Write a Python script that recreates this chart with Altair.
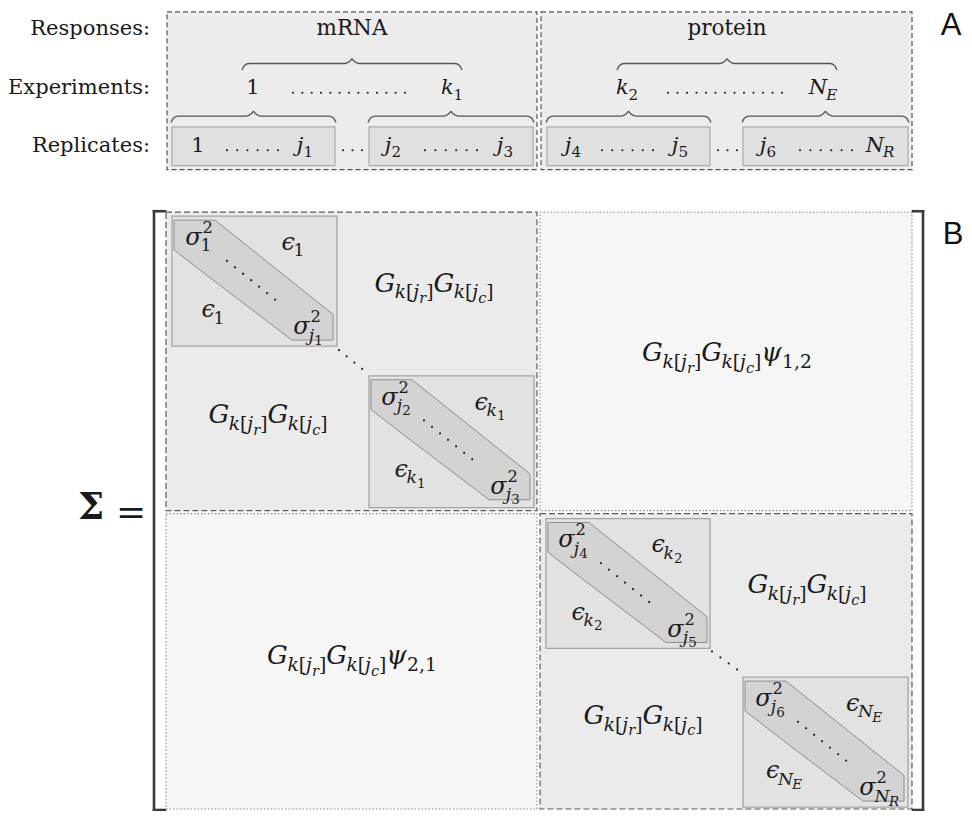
import altair as alt
import pandas as pd

# ---------------- text values ----------------
ROW_LABELS = ["Responses:", "Experiments:", "Replicates:"]
RESPONSES = ["mRNA", "protein"]
PANEL_LETTERS = ["A", "B"]

SUP = "sup"
def it(s, lvl=0):
    return (s, lvl, True)
def rm(s, lvl=0):
    return (s, lvl, False)

EXPERIMENT_LABELS = [
    [rm("1")], [it("k"), rm("1", 1)],
    [it("k"), rm("2", 1)], [it("N"), it("E", 1)],
]
REPLICATE_LABELS = [
    [rm("1")], [it("j"), rm("1", 1)], [it("j"), rm("2", 1)], [it("j"), rm("3", 1)],
    [it("j"), rm("4", 1)], [it("j"), rm("5", 1)], [it("j"), rm("6", 1)], [it("N"), it("R", 1)],
]
def sigma(sub):
    return [it("σ"), rm("2", SUP)] + sub
def eps(sub):
    return [it("ϵ")] + sub

BLOCK_LABELS = [  # (first variance, covariance, last variance)
    (sigma([rm("1", 1)]), eps([rm("1", 1)]), sigma([it("j", 1), rm("1", 2)])),
    (sigma([it("j", 1), rm("2", 2)]), eps([it("k", 1), rm("1", 2)]), sigma([it("j", 1), rm("3", 2)])),
    (sigma([it("j", 1), rm("4", 2)]), eps([it("k", 1), rm("2", 2)]), sigma([it("j", 1), rm("5", 2)])),
    (sigma([it("j", 1), rm("6", 2)]), eps([it("N", 1), it("E", 2)]), sigma([it("N", 1), it("R", 2)])),
]
GG = [it("G"), it("k", 1), rm("[", 1), it("j", 1), it("r", 2), rm("]", 1),
      it("G"), it("k", 1), rm("[", 1), it("j", 1), it("c", 2), rm("]", 1)]
CROSS_LABELS = [GG + [it("ψ"), rm("1,2", 1)], GG + [it("ψ"), rm("2,1", 1)]]

# ---------------- layout (pixel positions) ----------------
LABEL_X = 150
ROW_BASE = [35, 95, 153]
RESP_CX = [352, 727]
EXP_CX = [253, 452, 627, 823]
REP_CX = [198, 305, 393, 505, 573, 680, 768, 880]
RESP_BOX_X = [(167, 537), (541, 912)]
RESP_BOX_Y = (12, 171)
REP_BOX_X = [(172, 335), (369, 533), (547, 710), (743, 908)]
REP_BOX_Y = (128, 167)
EXP_BRACE_X = [(242, 462), (617, 837)]
EXP_BRACE_Y = 64
REP_BRACE_Y = 117

QUAD_DASHED = [(166, 537, 214, 515), (540, 912, 518, 816)]
QUAD_DOTTED = [(540, 912, 214, 515), (166, 537, 518, 816)]
BLOCKS = [(172, 337, 218, 349), (369, 534, 379, 512), (546, 710, 523, 654), (743, 908, 683, 814)]
BAND_DX = [2, 43, 120, 161]
BAND_TOP = [4, 4, 66, 99]
BAND_BOT = [34, 66, 125, 125]
BLOCK_TEXT_REL = [(27, 29), (121, 34), (41, 102), (136, 119)]  # sigA, epsU, epsL, sigB
G_POS = [(434, 294), (268, 427), (807, 598), (643, 730)]
CROSS_POS = [(727, 364), (352, 670)]
DIAG_REL = (55, 45, 103, 84)

DOTTED = [  # x1, y1, x2, y2, number of dots
    (293, 93.5, 405, 93.5, 13), (668, 93.5, 782, 93.5, 13),
    (227, 151.5, 278, 151.5, 6), (343, 151.5, 362, 151.5, 3), (425, 151.5, 477, 151.5, 6),
    (602, 151.5, 653, 151.5, 6), (718, 151.5, 737, 151.5, 3), (800, 151.5, 852, 151.5, 6),
    (339, 353, 362, 372, 4), (712, 657, 737, 675, 4),
]
for (l, r, t, b) in BLOCKS:
    DOTTED.append((l + DIAG_REL[0], t + DIAG_REL[1], l + DIAG_REL[2], t + DIAG_REL[3], 7))

BRACKET = [(154, 213, 154, 817), (154, 213, 165, 213), (154, 817, 165, 817),
           (923, 213, 923, 817), (913, 213, 923, 213), (913, 817, 923, 817)]

# ---------------- math layout helper ----------------
W_RM = {"0": .636, "1": .636, "2": .636, "3": .636, "4": .636, "5": .636, "6": .636,
        "[": .39, "]": .39, ",": .318}
W_IT = {"G": .78, "k": .60, "j": .32, "r": .48, "c": .55, "N": .83, "E": .73, "R": .74,
        "σ": .64, "ψ": .80, "ϵ": .50}
SIZE = {0: 1.0, 1: 0.72, 2: 0.56, SUP: 0.68}
DY = {0: 0.0, 1: 0.27, 2: 0.45, SUP: -0.50}

pieces = []
def place(tokens, cx, base, S):
    out = []
    x = 0.0
    sup_end = None
    for text, lvl, ital in tokens:
        size = S * SIZE[lvl]
        table = W_IT if ital else W_RM
        w = sum(table.get(ch, .6) for ch in text) * size
        if lvl == SUP:
            out.append([x + 0.08 * S, base + DY[lvl] * S, text, size, ital])
            sup_end = x + 0.08 * S + w
            continue
        if lvl == 0 and sup_end is not None:
            x = max(x, sup_end)
            sup_end = None
        out.append([x, base + DY[lvl] * S, text, size, ital])
        x += w
    if sup_end is not None:
        x = max(x, sup_end)
    left = cx - x / 2
    for p in out:
        pieces.append({"x": left + p[0], "y": p[1], "text": p[2], "size": p[3], "italic": p[4]})

for toks, cx in zip(EXPERIMENT_LABELS, EXP_CX):
    place(toks, cx, ROW_BASE[1], 21)
for toks, cx in zip(REPLICATE_LABELS, REP_CX):
    place(toks, cx, ROW_BASE[2], 21)
for (l, r, t, b), labels in zip(BLOCKS, BLOCK_LABELS):
    sigA, ep, sigB = labels
    for toks, (dx, dy) in zip([sigA, ep, ep, sigB], BLOCK_TEXT_REL):
        place(toks, l + dx, t + dy, 24)
for (cx, by) in G_POS:
    place(GG, cx, by, 26)
for toks, (cx, by) in zip(CROSS_LABELS, CROSS_POS):
    place(toks, cx, by, 26)

pieces_df = pd.DataFrame(pieces)

# ---------------- scales ----------------
XS = alt.Scale(domain=[8, 964], nice=False, zero=False)
YS = alt.Scale(domain=[8, 818], nice=False, zero=False, reverse=True)
def X(f):
    return alt.X(f, type="quantitative", scale=XS, axis=None)
def Y(f):
    return alt.Y(f, type="quantitative", scale=YS, axis=None, stack=None)

def rect_layer(boxes, **mark):
    df = pd.DataFrame(boxes, columns=["x", "x2", "y", "y2"])
    return alt.Chart(df).mark_rect(**mark).encode(
        x=X("x"), x2="x2", y=Y("y"), y2="y2")

layers = []
layers.append(rect_layer([(a, b, RESP_BOX_Y[0], RESP_BOX_Y[1]) for a, b in RESP_BOX_X],
                         fill="#ececec", stroke="#555555", strokeWidth=1.2, strokeDash=[5, 3]))
layers.append(rect_layer([(a, b, REP_BOX_Y[0], REP_BOX_Y[1]) for a, b in REP_BOX_X],
                         fill="#e0e0e0", stroke="#aaaaaa", strokeWidth=1.2))
layers.append(rect_layer([(a, b, c, d) for a, b, c, d in QUAD_DASHED],
                         fill="#ebebeb", stroke="#5a5a5a", strokeWidth=1.2, strokeDash=[6, 3]))
layers.append(rect_layer([(a, b, c, d) for a, b, c, d in QUAD_DOTTED],
                         fill="#f6f6f6", stroke="#8a8a8a", strokeWidth=1.1, strokeDash=[1.5, 2]))
layers.append(rect_layer(BLOCKS, fill="#e2e2e2", stroke="#a5a5a5", strokeWidth=1.3))

# diagonal bands
band_rows = []
for i, (l, r, t, b) in enumerate(BLOCKS):
    for dx, tp, bt in zip(BAND_DX, BAND_TOP, BAND_BOT):
        band_rows.append({"band": i, "x": l + dx, "top": t + tp, "bot": t + bt})
layers.append(alt.Chart(pd.DataFrame(band_rows)).mark_area(
    fill="#d3d3d3", stroke="#8f8f8f", strokeWidth=1, opacity=1, interpolate="linear").encode(
    x=X("x"), y=Y("top"), y2="bot", detail="band:N"))

# braces
brace_rows = []
def brace(x0, x1, y, bid, drop=6.5, rise=5):
    xm = (x0 + x1) / 2
    left = [(x0, y + drop), (x0 + 2.5, y + 2), (x0 + 7, y), (xm - 7, y), (xm - 2.5, y - 2), (xm, y - rise)]
    right = [(xm, y - rise), (xm + 2.5, y - 2), (xm + 7, y), (x1 - 7, y), (x1 - 2.5, y + 2), (x1, y + drop)]
    for k, half in enumerate([left, right]):
        for o, (px, py) in enumerate(half):
            brace_rows.append({"id": f"{bid}-{k}", "x": px, "y": py, "o": o})
for i, (a, b) in enumerate(EXP_BRACE_X):
    brace(a, b, EXP_BRACE_Y, f"e{i}")
for i, (a, b) in enumerate(REP_BOX_X):
    brace(a - 1, b + 1, REP_BRACE_Y, f"r{i}")
layers.append(alt.Chart(pd.DataFrame(brace_rows)).mark_line(
    interpolate="monotone", color="#555555", strokeWidth=1.3).encode(
    x=X("x"), y=Y("y"), detail="id:N", order="o:Q"))

# big bracket
br = pd.DataFrame(BRACKET, columns=["x", "y", "x2", "y2"])
layers.append(alt.Chart(br).mark_rule(color="#3a3a3a", strokeWidth=2.6, strokeCap="square").encode(
    x=X("x"), y=Y("y"), x2="x2", y2="y2"))

# dotted lines
for (x1, y1, x2, y2, n) in DOTTED:
    L = ((x2 - x1) ** 2 + (y2 - y1) ** 2) ** 0.5
    gap = L / (n - 1)
    ux, uy = (x2 - x1) / L, (y2 - y1) / L
    df = pd.DataFrame([{"x": x1, "y": y1, "x2": x2 + ux * 1.5, "y2": y2 + uy * 1.5}])
    layers.append(alt.Chart(df).mark_rule(
        color="#222222", strokeWidth=2.2, strokeCap="round", strokeDash=[0.01, gap - 0.01]).encode(
        x=X("x"), y=Y("y"), x2="x2", y2="y2"))

# texts
FONT = "DejaVu Serif"
TXT = "#1a1a1a"
labels_df = pd.DataFrame({"x": [LABEL_X] * 3, "y": ROW_BASE, "text": ROW_LABELS})
layers.append(alt.Chart(labels_df).mark_text(
    align="right", baseline="alphabetic", font=FONT, fontSize=21, color=TXT).encode(
    x=X("x"), y=Y("y"), text="text:N"))
resp_df = pd.DataFrame({"x": RESP_CX, "y": [ROW_BASE[0]] * 2, "text": RESPONSES})
layers.append(alt.Chart(resp_df).mark_text(
    align="center", baseline="alphabetic", font=FONT, fontSize=21.5, color=TXT).encode(
    x=X("x"), y=Y("y"), text="text:N"))

for ital in (False, True):
    sub = pieces_df[pieces_df["italic"] == ital]
    layers.append(alt.Chart(sub).mark_text(
        align="left", baseline="alphabetic", font=FONT,
        fontStyle="italic" if ital else "normal", color=TXT).encode(
        x=X("x"), y=Y("y"), text="text:N", size=alt.Size("size:Q", scale=None)))

sig_df = pd.DataFrame({"x": [91], "y": [523], "text": ["Σ"]})
layers.append(alt.Chart(sig_df).mark_text(
    align="center", baseline="alphabetic", font=FONT, fontWeight="bold", fontSize=37, color=TXT).encode(
    x=X("x"), y=Y("y"), text="text:N"))
eq_df = pd.DataFrame({"x": [131], "y": [529], "text": ["="]})
layers.append(alt.Chart(eq_df).mark_text(
    align="center", baseline="alphabetic", font=FONT, fontSize=36, color=TXT).encode(
    x=X("x"), y=Y("y"), text="text:N"))

letters_df = pd.DataFrame({"x": [951, 953], "y": [35, 246], "text": PANEL_LETTERS})
layers.append(alt.Chart(letters_df).mark_text(
    align="center", baseline="alphabetic", font="Liberation Sans", fontSize=31, color="#111111").encode(
    x=X("x"), y=Y("y"), text="text:N"))

chart = alt.layer(*layers).properties(
    width=956, height=803, padding=0, autosize="none", background="white"
).configure_view(stroke=None)

chart.save("out.html", embed_options={"renderer": "svg", "actions": False})
